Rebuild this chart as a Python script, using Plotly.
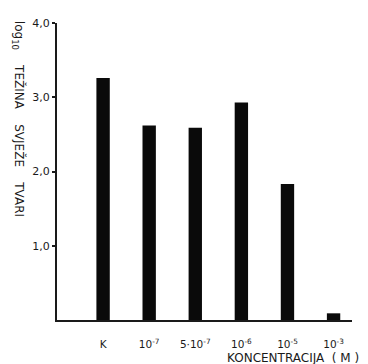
import plotly.graph_objects as go

categories = ["K", "1e-7", "5e-7", "1e-6", "1e-5", "1e-3"]
tick_labels = ["K", "10<sup>-7</sup>", "5·10<sup>-7</sup>", "10<sup>-6</sup>", "10<sup>-5</sup>", "10<sup>-3</sup>"]
values = [3.26, 2.62, 2.59, 2.93, 1.83, 0.09]
y_ticks = [1, 2, 3, 4]
y_tick_labels = ["1,0", "2,0", "3,0", "4,0"]

FONT = "DejaVu Sans, Arial"
NB = "\u00a0"

fig = go.Figure()
fig.add_trace(go.Bar(x=categories, y=values, marker=dict(color="#0a0a0a", line=dict(width=0)),
                     width=0.29))

# page body has an 8px default margin, so the figure is offset by 8px
fig.update_layout(
    width=360, height=356,
    margin=dict(l=49, r=16, t=9, b=44),
    paper_bgcolor="white", plot_bgcolor="white",
    showlegend=False,
    font=dict(family=FONT, color="#1a1a1a", size=11),
)
fig.update_xaxes(
    type="category", categoryorder="array", categoryarray=categories,
    tickvals=categories, ticktext=tick_labels,
    range=[-1.0, 5.4],
    showline=True, linecolor="#1a1a1a", linewidth=1.5,
    showgrid=False, zeroline=False, ticks="", ticklabelstandoff=14,
    tickfont=dict(size=10.5),
)
fig.update_yaxes(
    range=[0, 4],
    tickvals=y_ticks, ticktext=y_tick_labels,
    showline=True, linecolor="#1a1a1a", linewidth=2,
    showgrid=False, zeroline=False, ticks="outside", ticklen=3, tickwidth=1.5,
    tickcolor="#1a1a1a",
    tickfont=dict(size=11),
)
fig.add_annotation(
    text="KONCENTRACIJA" + NB * 2 + "(" + NB + "M" + NB + ")", xref="paper", yref="paper",
    x=1.03, y=-0.127, xanchor="right", yanchor="middle", showarrow=False,
    font=dict(size=12, family=FONT),
)
fig.add_annotation(
    text="log<sub>10</sub>" + NB * 4 + "TEŽINA" + NB * 4 + "SVJEŽE" + NB * 4 + "TVARI",
    xref="paper", yref="paper",
    x=-0.132, y=0.677, xanchor="center", yanchor="middle", showarrow=False,
    textangle=90, font=dict(size=12, family=FONT),
)
fig.write_html("out.html")
